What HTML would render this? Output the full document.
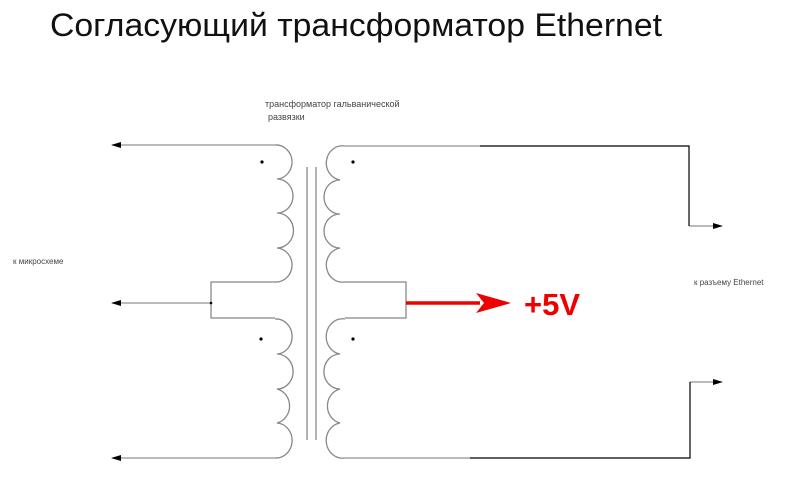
<!DOCTYPE html>
<html><head><meta charset="utf-8"><style>
html,body{margin:0;padding:0;background:#fff;width:800px;height:485px;overflow:hidden}
svg{display:block}
</style></head><body>
<svg width="800" height="485" viewBox="0 0 800 485" xmlns="http://www.w3.org/2000/svg" font-family="Liberation Sans, DejaVu Sans, sans-serif">
<defs>
<marker id="ab" markerWidth="10" markerHeight="6" refX="9" refY="3" orient="auto" markerUnits="userSpaceOnUse"><path d="M0,0 L10,3 L0,6 Z" fill="#000"/></marker>
</defs>
<text x="50" y="36" font-size="32" fill="#111" textLength="612" lengthAdjust="spacingAndGlyphs">Согласующий трансформатор Ethernet</text>
<text x="265" y="107" font-size="9" fill="#444">трансформатор гальванической</text>
<text x="268" y="120" font-size="9" fill="#444">развязки</text>
<text x="13" y="264" font-size="8" fill="#444">к микросхеме</text>
<text x="694" y="285" font-size="8" fill="#444">к разъему Ethernet</text>
<g fill="none" stroke="#888" stroke-width="1.3">
<path d="M275,145 A16,17 0 0 1 277,179 A16,17 0 0 1 277,213 A16,17 0 0 1 277,248 A16,17 0 0 1 275,282 L211,282 L211,318 L275,318"/>
<path d="M275,319 A16,17.4 0 0 1 277,354 A16,17.4 0 0 1 277,389 A16,17.4 0 0 1 277,423 A16,17.4 0 0 1 275,458"/>
<path d="M345,146 A16,17 0 0 0 340,180 A16,17 0 0 0 340,214 A16,17 0 0 0 340,248 A16,17 0 0 0 345,282 L406,282 L406,318 L345,318"/>
<path d="M345,319 A16,17.4 0 0 0 340,354 A16,17.4 0 0 0 340,389 A16,17.4 0 0 0 340,423 A16,17.4 0 0 0 345,458"/>
<line x1="307" y1="167" x2="307" y2="440"/>
<line x1="316" y1="167" x2="316" y2="440"/>
</g>
<g stroke="#777" stroke-width="1" fill="none">
<line x1="275" y1="145" x2="112" y2="145" marker-end="url(#ab)"/>
<line x1="211" y1="303" x2="112" y2="303" marker-end="url(#ab)"/>
<line x1="275" y1="458" x2="112" y2="458" marker-end="url(#ab)"/>
<line x1="345" y1="146" x2="480" y2="146"/>
<line x1="345" y1="458" x2="470" y2="458"/>
<line x1="689" y1="226" x2="722" y2="226" marker-end="url(#ab)"/>
<line x1="690" y1="382" x2="722" y2="382" marker-end="url(#ab)"/>
</g>
<g stroke="#000" stroke-width="1.2" fill="none">
<path d="M480,146 L689,146 L689,226"/>
<path d="M470,458 L690,458 L690,382"/>
</g>
<g fill="#000">
<circle cx="262" cy="162" r="1.6"/><circle cx="353" cy="162" r="1.6"/>
<circle cx="261" cy="339" r="1.6"/><circle cx="353" cy="339" r="1.6"/>
<circle cx="211" cy="303" r="1.3"/>
</g>
<line x1="406" y1="303" x2="480" y2="303" stroke="#e00" stroke-width="3.5"/>
<path d="M476,293 L511,303 L476,313 L484,303 Z" fill="#e00"/>
<text x="524" y="315" font-size="31" font-weight="bold" fill="#e00">+5V</text>
</svg>
</body></html>
